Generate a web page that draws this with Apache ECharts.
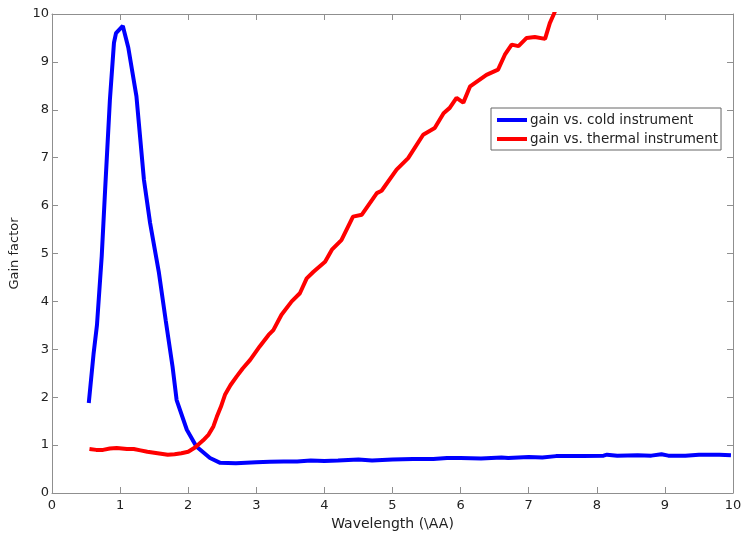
<!DOCTYPE html>
<html>
<head>
<meta charset="utf-8">
<script src="https://cdn.jsdelivr.net/npm/echarts@6/dist/echarts.min.js"></script>
<style>
  html, body { margin: 0; padding: 0; background: #fff; }
  #chart { width: 743px; height: 533px; }
</style>
</head>
<body>
<div id="chart"></div>
<script>
// wavelength / gain pairs
const coldX = [0.54, 0.61, 0.66, 0.73, 0.78, 0.85, 0.91, 0.94, 1.04, 1.12, 1.24, 1.35, 1.44, 1.57, 1.67, 1.77, 1.83, 1.98, 2.12, 2.32, 2.47, 2.7, 3.0, 3.2, 3.4, 3.6, 3.8, 4.0, 4.2, 4.5, 4.7, 5.0, 5.3, 5.6, 5.8, 6.0, 6.3, 6.6, 6.7, 7.0, 7.2, 7.4, 7.8, 8.1, 8.15, 8.3, 8.6, 8.8, 8.95, 9.05, 9.3, 9.5, 9.8, 9.97];
const coldY = [1.88, 2.9, 3.5, 4.94, 6.33, 8.2, 9.4, 9.6, 9.75, 9.3, 8.28, 6.54, 5.64, 4.6, 3.6, 2.64, 1.94, 1.32, 0.97, 0.73, 0.63, 0.62, 0.64, 0.65, 0.66, 0.66, 0.68, 0.67, 0.68, 0.7, 0.68, 0.7, 0.71, 0.71, 0.73, 0.73, 0.72, 0.74, 0.73, 0.75, 0.74, 0.77, 0.77, 0.78, 0.8, 0.78, 0.79, 0.78, 0.81, 0.78, 0.78, 0.8, 0.8, 0.79];

const thermalX = [0.55, 0.65, 0.75, 0.85, 0.95, 1.1, 1.2, 1.3, 1.4, 1.5, 1.6, 1.7, 1.8, 1.9, 2.0, 2.1, 2.22, 2.3, 2.37, 2.42, 2.48, 2.54, 2.62, 2.71, 2.8, 2.91, 3.05, 3.18, 3.25, 3.37, 3.52, 3.64, 3.74, 3.84, 4.01, 4.11, 4.25, 4.42, 4.55, 4.77, 4.84, 5.06, 5.23, 5.45, 5.62, 5.75, 5.84, 5.94, 6.04, 6.14, 6.38, 6.55, 6.65, 6.75, 6.85, 6.97, 7.09, 7.24, 7.31, 7.37, 7.45];
const thermalY = [0.92, 0.9, 0.9, 0.93, 0.94, 0.92, 0.92, 0.89, 0.86, 0.84, 0.82, 0.8, 0.81, 0.83, 0.86, 0.95, 1.1, 1.22, 1.39, 1.59, 1.8, 2.05, 2.25, 2.43, 2.6, 2.78, 3.06, 3.3, 3.4, 3.72, 4.0, 4.17, 4.48, 4.62, 4.83, 5.08, 5.28, 5.77, 5.81, 6.26, 6.31, 6.75, 6.99, 7.48, 7.62, 7.93, 8.04, 8.25, 8.15, 8.49, 8.73, 8.84, 9.15, 9.36, 9.33, 9.5, 9.52, 9.48, 9.81, 10.0, 10.3];

const seriesNames = ['gain vs. cold instrument', 'gain vs. thermal instrument'];

const font = 'DejaVu Sans, sans-serif';
const axisColor = '#8f8f8f';
const textColor = '#222';

const zip = (xs, ys) => xs.map((x, i) => [x, ys[i]]);

const chart = echarts.init(document.getElementById('chart'));

// bottom/left axes carry labels, top/right ones just close the box
const baseAxis = {
  type: 'value',
  min: 0,
  max: 10,
  interval: 1,
  splitLine: { show: false },
  axisLine: { show: true, onZero: false, lineStyle: { color: axisColor, width: 1 } },
  axisTick: { show: true, inside: true, length: 6, lineStyle: { color: axisColor } }
};

chart.setOption({
  animation: false,
  backgroundColor: '#fff',
  grid: { left: 52, right: 10, top: 14, bottom: 40, outerBoundsMode: 'none' },
  legend: {
    data: seriesNames,
    orient: 'vertical',
    left: 491,
    top: 108,
    icon: 'rect',
    itemWidth: 30,
    itemHeight: 4,
    itemGap: 5,
    padding: [5, 3, 4, 6],
    borderColor: '#666',
    borderWidth: 1,
    backgroundColor: '#fff',
    textStyle: { fontFamily: font, fontSize: 13.5, color: textColor, padding: [0, 0, 0, -2] }
  },
  xAxis: [
    Object.assign({}, baseAxis, {
      position: 'bottom',
      name: 'Wavelength (\\AA)',
      nameLocation: 'middle',
      nameGap: 23,
      nameTextStyle: { fontFamily: font, fontSize: 14, color: textColor },
      axisLabel: { fontFamily: font, fontSize: 13, color: textColor, margin: 6 }
    }),
    Object.assign({}, baseAxis, { position: 'top', axisLabel: { show: false } })
  ],
  yAxis: [
    Object.assign({}, baseAxis, {
      position: 'left',
      name: 'Gain factor',
      nameLocation: 'middle',
      nameGap: 24,
      nameTextStyle: { fontFamily: font, fontSize: 13, color: textColor },
      axisLabel: { fontFamily: font, fontSize: 13, color: textColor, margin: 3 }
    }),
    Object.assign({}, baseAxis, { position: 'right', axisLabel: { show: false } })
  ],
  series: [
    {
      name: seriesNames[0],
      type: 'line',
      data: zip(coldX, coldY),
      showSymbol: false,
      clip: true,
      color: '#0000ff',
      lineStyle: { color: '#0000ff', width: 4 }
    },
    {
      name: seriesNames[1],
      type: 'line',
      data: zip(thermalX, thermalY),
      showSymbol: false,
      clip: true,
      color: '#ff0000',
      lineStyle: { color: '#ff0000', width: 4 }
    }
  ]
});
</script>
</body>
</html>
